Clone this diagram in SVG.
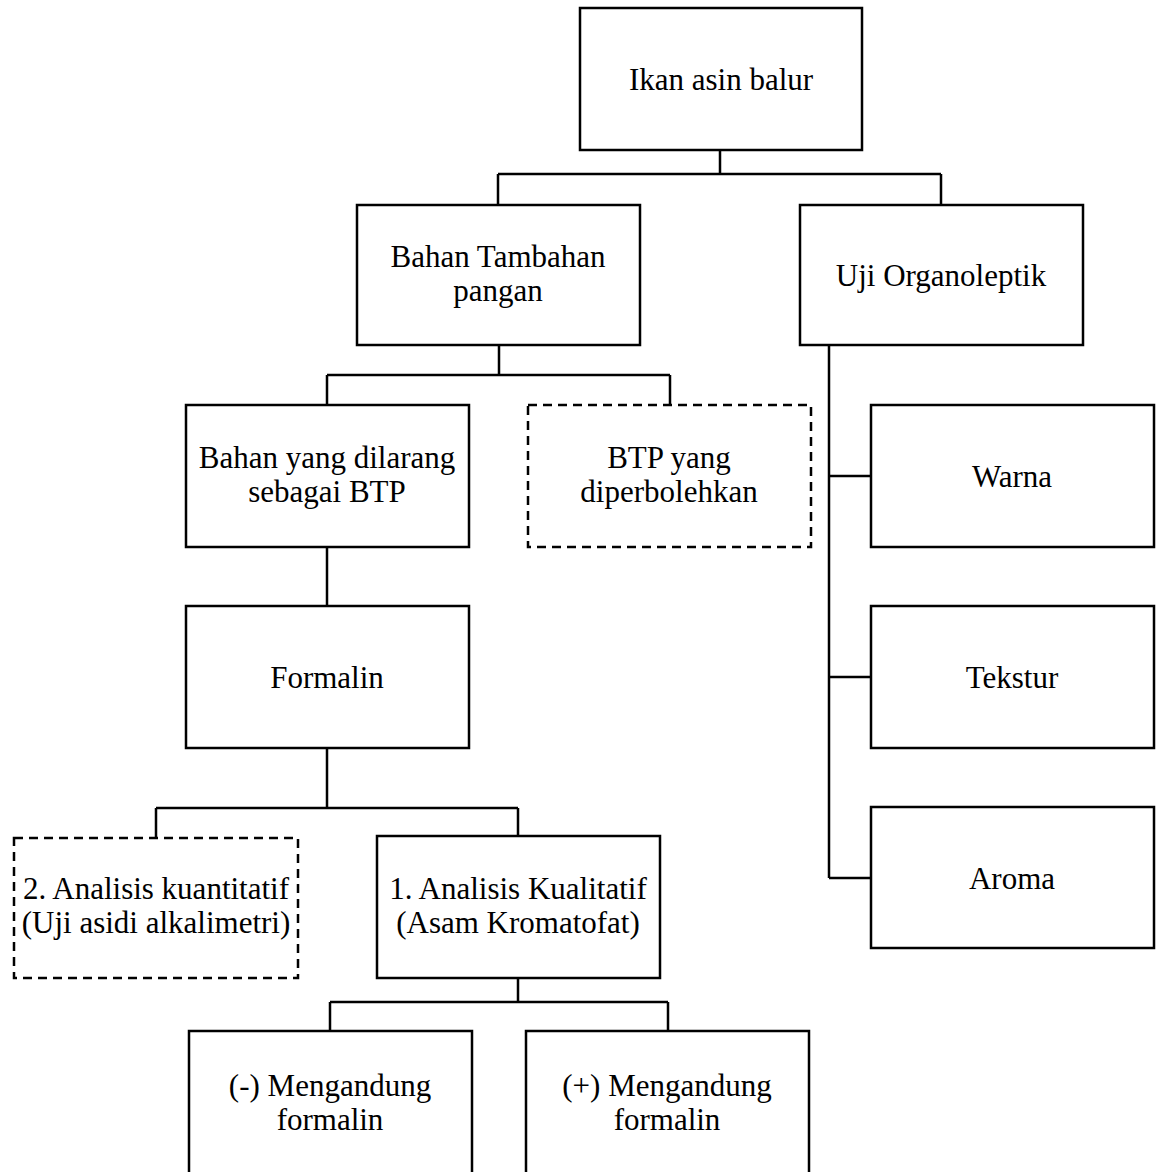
<svg xmlns="http://www.w3.org/2000/svg" width="1157" height="1172" viewBox="0 0 1157 1172">
<style>
  .box { fill: #ffffff; stroke: #000000; stroke-width: 2.5; }
  .dash { fill: #ffffff; stroke: #000000; stroke-width: 2.5; stroke-dasharray: 9 6; }
  .conn { fill: none; stroke: #000000; stroke-width: 2.5; }
  text { font-family: "Liberation Serif", "Times New Roman", serif; font-size: 31px; fill: #000000; text-anchor: middle; }
</style>
<rect x="0" y="0" width="1157" height="1172" fill="#ffffff"/>
<g id="connectors">
  <path class="conn" d="M720 150 V174 M498 174 H941 M498 174 V205 M941 174 V205"/>
  <path class="conn" d="M499 345 V375 M327 375 H670 M327 375 V405 M670 375 V405"/>
  <path class="conn" d="M327 547 V606"/>
  <path class="conn" d="M327 748 V808 M156 808 H518 M156 808 V838 M518 808 V836"/>
  <path class="conn" d="M518 978 V1002 M330 1002 H668 M330 1002 V1031 M668 1002 V1031"/>
  <path class="conn" d="M829 345 V878 M829 476 H871 M829 677 H871 M829 878 H871"/>
</g>
<g id="ikan">
  <rect class="box" x="580" y="8" width="282" height="142"/>
  <text x="721" y="90">Ikan asin balur</text>
</g>
<g id="btp">
  <rect class="box" x="357" y="205" width="283" height="140"/>
  <text x="498" y="267">Bahan Tambahan</text>
  <text x="498" y="301">pangan</text>
</g>
<g id="uji">
  <rect class="box" x="800" y="205" width="283" height="140"/>
  <text x="941" y="286">Uji Organoleptik</text>
</g>
<g id="dilarang">
  <rect class="box" x="186" y="405" width="283" height="142"/>
  <text x="327" y="468">Bahan yang dilarang</text>
  <text x="327" y="502">sebagai BTP</text>
</g>
<g id="diperbolehkan">
  <rect class="dash" x="528" y="405" width="283" height="142"/>
  <text x="669" y="468">BTP yang</text>
  <text x="669" y="502">diperbolehkan</text>
</g>
<g id="warna">
  <rect class="box" x="871" y="405" width="283" height="142"/>
  <text x="1012" y="487">Warna</text>
</g>
<g id="formalin">
  <rect class="box" x="186" y="606" width="283" height="142"/>
  <text x="327" y="688">Formalin</text>
</g>
<g id="tekstur">
  <rect class="box" x="871" y="606" width="283" height="142"/>
  <text x="1012" y="688">Tekstur</text>
</g>
<g id="aroma">
  <rect class="box" x="871" y="807" width="283" height="141"/>
  <text x="1012" y="889">Aroma</text>
</g>
<g id="kuantitatif">
  <rect class="dash" x="14" y="838" width="284" height="140"/>
  <text x="156" y="899">2. Analisis kuantitatif</text>
  <text x="156" y="933">(Uji asidi alkalimetri)</text>
</g>
<g id="kualitatif">
  <rect class="box" x="377" y="836" width="283" height="142"/>
  <text x="518" y="899">1. Analisis Kualitatif</text>
  <text x="518" y="933">(Asam Kromatofat)</text>
</g>
<g id="negatif">
  <rect class="box" x="189" y="1031" width="283" height="160"/>
  <text x="330" y="1096">(-) Mengandung</text>
  <text x="330" y="1130">formalin</text>
</g>
<g id="positif">
  <rect class="box" x="526" y="1031" width="283" height="160"/>
  <text x="667" y="1096">(+) Mengandung</text>
  <text x="667" y="1130">formalin</text>
</g>
</svg>
